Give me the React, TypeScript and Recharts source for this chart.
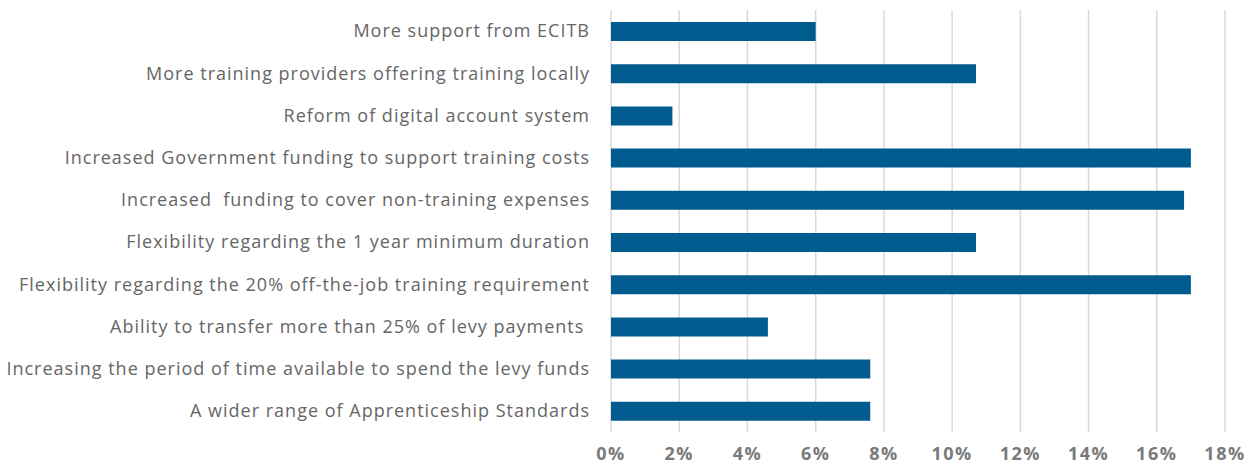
import React from "react";
import { BarChart, Bar, XAxis, YAxis, CartesianGrid } from "recharts";

const categories = [
  "More support from ECITB",
  "More training providers offering training locally",
  "Reform of digital account system",
  "Increased Government funding to support training costs",
  "Increased  funding to cover non-training expenses",
  "Flexibility regarding the 1 year minimum duration",
  "Flexibility regarding the 20% off-the-job training requirement",
  "Ability to transfer more than 25% of levy payments ",
  "Increasing the period of time available to spend the levy funds",
  "A wider range of Apprenticeship Standards",
];
const values = [0.06, 0.107, 0.018, 0.17, 0.168, 0.107, 0.17, 0.046, 0.076, 0.076];
const xTicks = [0, 0.02, 0.04, 0.06, 0.08, 0.1, 0.12, 0.14, 0.16, 0.18];

const data = categories.map((name, i) => ({ name, value: values[i] }));

const FONT = "'Open Sans', sans-serif";

const YTick = (props: any) => {
  const { x, y, payload } = props;
  return (
    <text
      x={x}
      y={y}
      dy="0.355em"
      textAnchor="end"
      fill="#666666"
      fontSize={18}
      fontFamily={FONT}
      letterSpacing={1.0}
      style={{ whiteSpace: "pre" }}
      xmlSpace="preserve"
    >
      {payload.value}
    </text>
  );
};

const XTick = (props: any) => {
  const { x, y, payload } = props;
  return (
    <text
      x={x}
      y={y}
      dy="0.71em"
      textAnchor="middle"
      fill="#7a7a7a"
      fontSize={18}
      fontWeight={700}
      fontFamily={FONT}
      letterSpacing={1.5}
    >
      {`${Math.round(payload.value * 100)}%`}
    </text>
  );
};

export default function App() {
  return (
    <div style={{ position: "absolute", left: 0, top: 0, width: 1248, height: 466, background: "#fff" }}>
      <BarChart
        width={1248}
        height={466}
        data={data}
        layout="vertical"
        margin={{ top: 10, right: 23, bottom: 0, left: 0 }}
        barSize={19}
      >
        <CartesianGrid horizontal={false} vertical stroke="#d9d9d9" strokeWidth={1.5} />
        <XAxis
          type="number"
          domain={[0, 0.18]}
          ticks={xTicks}
          axisLine={false}
          tickLine={false}
          tickSize={0}
          tickMargin={15}
          height={34}
          interval={0}
          tick={<XTick />}
        />
        <YAxis
          type="category"
          dataKey="name"
          width={611}
          axisLine={false}
          tickLine={false}
          tickSize={0}
          tickMargin={21}
          interval={0}
          tick={<YTick />}
        />
        <Bar dataKey="value" fill="#005b8f" isAnimationActive={false} />
      </BarChart>
    </div>
  );
}
